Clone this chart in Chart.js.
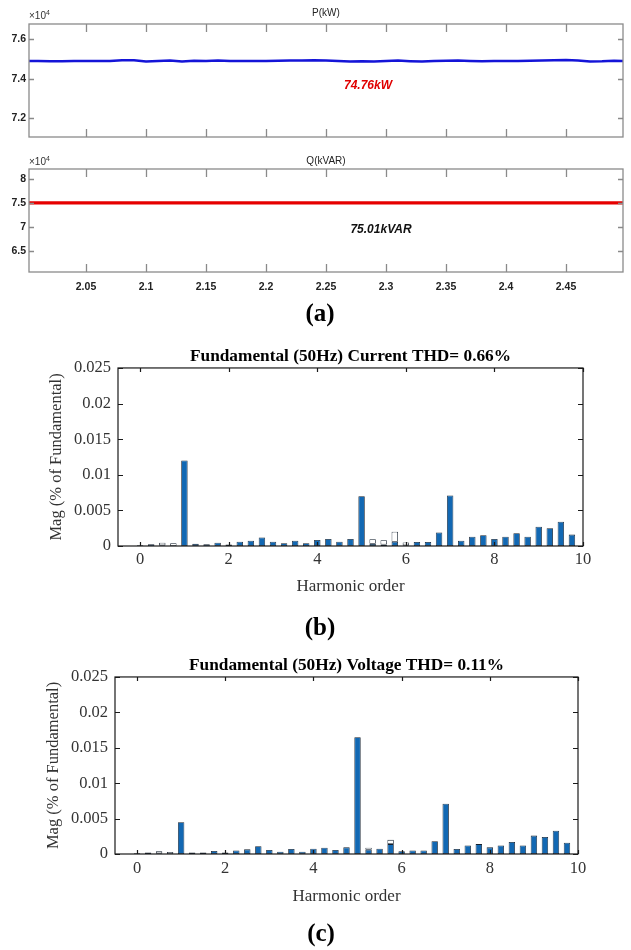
<!DOCTYPE html>
<html>
<head>
<meta charset="utf-8">
<script src="https://cdn.jsdelivr.net/npm/chart.js@4.4.1/dist/chart.umd.min.js"></script>
<style>
  body { margin: 0; background: #fff; }
  #page { position: relative; width: 631px; height: 950px; overflow: hidden; background: #fff; }
  #page canvas { position: absolute; left: 0; }
  .lbl { position: absolute; transform: translate(-50%, -50%); white-space: nowrap; }
  .narrow { font-family: "Liberation Sans Narrow", "Arial Narrow", "Liberation Sans", sans-serif; }
  .exp { position: absolute; font-size: 10px; color: #333; }
  .exp sup { font-size: 7px; }
  .panel { font-family: "Liberation Serif", "Times New Roman", serif; font-weight: bold; font-size: 25px; color: #000; }
</style>
</head>
<body>
<div id="page">
  <canvas id="pChart" width="631" height="150" style="top:0px"></canvas>
  <canvas id="qChart" width="631" height="150" style="top:150px"></canvas>
  <canvas id="iChart" width="631" height="270" style="top:330px"></canvas>
  <canvas id="vChart" width="631" height="270" style="top:640px"></canvas>

  <div class="lbl narrow" style="left:326px;top:12px;font-size:10px;color:#222">P(kW)</div>
  <div class="exp narrow" style="left:29px;top:9px">&times;10<sup>4</sup></div>
  <div class="lbl narrow" style="left:368px;top:85px;font-size:12px;color:#e00000;font-weight:bold;font-style:italic">74.76kW</div>

  <div class="lbl narrow" style="left:326px;top:160px;font-size:10px;color:#222">Q(kVAR)</div>
  <div class="exp narrow" style="left:29px;top:155px">&times;10<sup>4</sup></div>
  <div class="lbl narrow" style="left:381px;top:229px;font-size:12px;color:#111;font-weight:bold;font-style:italic">75.01kVAR</div>

  <div class="lbl panel" style="left:320px;top:313px">(a)</div>
  <div class="lbl panel" style="left:320px;top:627px">(b)</div>
  <div class="lbl panel" style="left:321px;top:933px">(c)</div>
</div>

<script>
// ---- data (a): active / reactive power vs time ----
const pTime = [2.00, 2.01, 2.02, 2.03, 2.04, 2.05, 2.06, 2.07, 2.08, 2.09,
               2.10, 2.11, 2.12, 2.13, 2.14, 2.15, 2.16, 2.17, 2.18, 2.19,
               2.20, 2.21, 2.22, 2.23, 2.24, 2.25, 2.26, 2.27, 2.28, 2.29,
               2.30, 2.31, 2.32, 2.33, 2.34, 2.35, 2.36, 2.37, 2.38, 2.39,
               2.40, 2.41, 2.42, 2.43, 2.44, 2.45, 2.46, 2.47, 2.48, 2.49, 2.50];
const pValue = [74900, 74895, 74890, 74890, 74895, 74895, 74900, 74900, 74940, 74935,
                74870, 74905, 74930, 74880, 74910, 74900, 74920, 74905, 74895, 74900,
                74905, 74910, 74920, 74930, 74935, 74925, 74900, 74870, 74890, 74875,
                74900, 74920, 74890, 74870, 74895, 74915, 74925, 74905, 74890, 74895,
                74900, 74895, 74910, 74925, 74940, 74955, 74930, 74880, 74885, 74910, 74905];
const qTime = [2.00, 2.10, 2.20, 2.30, 2.40, 2.50];
const qValue = [75010, 75010, 75010, 75010, 75010, 75010];

const timeTicks = [2.05, 2.1, 2.15, 2.2, 2.25, 2.3, 2.35, 2.4, 2.45];
const pTicks = [72000, 74000, 76000];
const qTicks = [65000, 70000, 75000, 80000];

// ---- data (b), (c): harmonic spectrum ----
const harmonicOrder = [0, 0.25, 0.5, 0.75, 1, 1.25, 1.5, 1.75, 2, 2.25,
                       2.5, 2.75, 3, 3.25, 3.5, 3.75, 4, 4.25, 4.5, 4.75,
                       5, 5.25, 5.5, 5.75, 6, 6.25, 6.5, 6.75, 7, 7.25,
                       7.5, 7.75, 8, 8.25, 8.5, 8.75, 9, 9.25, 9.5, 9.75];
// filled (blue) part of each bar
const currentFilled = [0.0001, 0.00024, 0.0001, 0, 0.012, 0.0003, 0.00024, 0.00047, 0.0002, 0.0006,
                       0.00075, 0.0012, 0.0006, 0.0004, 0.00075, 0.0004, 0.00085, 0.001, 0.0006, 0.001,
                       0.007, 0.0003, 0.0002, 0.0006, 0.0001, 0.00057, 0.00057, 0.0019, 0.0071, 0.00075,
                       0.0013, 0.0015, 0.001, 0.0013, 0.0018, 0.0013, 0.0027, 0.0025, 0.0034, 0.0016];
// open (white) part on top of the bar
const currentOpen = [0, 0, 0.00035, 0.0004, 0, 0, 0, 0, 0, 0,
                     0, 0, 0, 0, 0, 0, 0, 0, 0, 0,
                     0, 0.00065, 0.0006, 0.0014, 0.0004, 0, 0, 0, 0, 0,
                     0, 0, 0, 0, 0, 0, 0, 0, 0, 0];
const voltageFilled = [0.0001, 0.0002, 0.0001, 0, 0.0045, 0.0002, 0.0002, 0.00042, 0.0002, 0.0005,
                       0.00066, 0.0011, 0.00057, 0.00033, 0.0007, 0.00033, 0.00075, 0.0009, 0.00057, 0.00094,
                       0.0165, 0.0006, 0.00075, 0.0014, 0.0004, 0.0005, 0.0005, 0.0018, 0.0071, 0.0007,
                       0.0012, 0.0014, 0.00094, 0.0012, 0.0017, 0.0012, 0.0026, 0.0024, 0.0033, 0.0016];
const voltageOpen = [0, 0, 0.0003, 0.0003, 0, 0, 0, 0, 0, 0,
                     0, 0, 0, 0, 0, 0, 0, 0, 0, 0,
                     0, 0.0003, 0, 0.0006, 0, 0, 0, 0, 0, 0,
                     0, 0, 0, 0, 0, 0, 0, 0, 0, 0];
const harmonicTicks = [0, 2, 4, 6, 8, 10];
const magTicks = [0, 0.005, 0.01, 0.015, 0.02, 0.025];

// matlab style box with inward ticks on all four sides
const boxTicks = {
  id: 'boxTicks',
  afterDatasetsDraw(chart, args, opts) {
    const { ctx, chartArea: a, scales: { x, y } } = chart;
    ctx.save();
    ctx.strokeStyle = opts.color;
    ctx.lineWidth = opts.width;
    ctx.strokeRect(a.left, a.top, a.right - a.left, a.bottom - a.top);
    ctx.beginPath();
    x.ticks.forEach(t => {
      const px = Math.round(x.getPixelForValue(t.value)) + 0.5;
      ctx.moveTo(px, a.bottom); ctx.lineTo(px, a.bottom - opts.xLen);
      ctx.moveTo(px, a.top); ctx.lineTo(px, a.top + opts.xLen);
    });
    y.ticks.forEach(t => {
      const py = Math.round(y.getPixelForValue(t.value)) + 0.5;
      ctx.moveTo(a.left, py); ctx.lineTo(a.left + opts.yLen, py);
      ctx.moveTo(a.right, py); ctx.lineTo(a.right - opts.yLen, py);
    });
    ctx.stroke();
    ctx.restore();
  }
};

const narrow = '"Liberation Sans Narrow", "Arial Narrow", "Liberation Sans", sans-serif';
const serif = '"Liberation Serif", "Times New Roman", serif';

function powerChart(id, times, values, color, lineW, yMin, yMax, yTicks, fmt, opt) {
  return new Chart(document.getElementById(id), {
    type: 'line',
    data: {
      datasets: [{
        data: times.map((t, i) => ({ x: t, y: values[i] })),
        borderColor: color,
        borderWidth: lineW,
        pointRadius: 0,
        tension: 0,
        fill: false
      }]
    },
    plugins: [boxTicks],
    options: {
      responsive: false,
      animation: false,
      layout: { padding: opt.padding },
      plugins: {
        legend: { display: false },
        tooltip: { enabled: false },
        boxTicks: { color: '#8a8a8a', width: 1.3, xLen: 8, yLen: 5 }
      },
      scales: {
        x: {
          type: 'linear', min: 2.0025, max: 2.4975, offset: false,
          grid: { display: false, drawTicks: false },
          border: { display: false },
          afterBuildTicks: s => { s.ticks = timeTicks.map(v => ({ value: v })); },
          afterFit: s => { s.height = opt.xHeight; },
          ticks: {
            display: opt.showX, padding: 8.7, maxRotation: 0, autoSkip: false,
            color: '#222', font: { family: narrow, size: 10.5, weight: 'bold' },
            callback: v => String(v)
          }
        },
        y: {
          min: yMin, max: yMax,
          grid: { display: false, drawTicks: false },
          border: { display: false },
          afterBuildTicks: s => { s.ticks = yTicks.map(v => ({ value: v })); },
          afterFit: s => { s.width = 29; },
          ticks: {
            padding: 3, color: '#222',
            font: { family: narrow, size: 10.5, weight: 'bold' },
            callback: fmt
          }
        }
      }
    }
  });
}

powerChart('pChart', pTime, pValue, '#1414d8', 2.5, 71050, 76775, pTicks,
  v => (v / 1e4).toFixed(1),
  { padding: { top: 24, right: 8, bottom: 13, left: 0 }, xHeight: 0, showX: false });

powerChart('qChart', qTime, qValue, '#e60000', 3.2, 60625, 82080, qTicks,
  v => String(Number((v / 1e4).toFixed(2))),
  { padding: { top: 19, right: 8, bottom: 0, left: 0 }, xHeight: 28, showX: true });

function spectrumChart(id, filled, open, title, g) {
  const bar = { borderColor: '#15202e', borderWidth: 0.8, borderSkipped: false, categoryPercentage: 1, barPercentage: 0.58 };
  return new Chart(document.getElementById(id), {
    type: 'bar',
    data: {
      datasets: [
        Object.assign({ data: harmonicOrder.map((h, i) => ({ x: h, y: filled[i] })), backgroundColor: '#1268b3' }, bar),
        Object.assign({ data: harmonicOrder.map((h, i) => ({ x: h, y: open[i] })), backgroundColor: '#ffffff' }, bar)
      ]
    },
    plugins: [boxTicks],
    options: {
      responsive: false,
      animation: false,
      layout: { padding: { top: 0, right: g.right, bottom: 0, left: 0 } },
      plugins: {
        legend: { display: false },
        tooltip: { enabled: false },
        title: {
          display: true, text: title, fullSize: false, color: '#000',
          font: { family: serif, size: 17.3, weight: 'bold' },
          padding: { top: g.titleTop, bottom: 0.6 }
        },
        boxTicks: { color: '#1a1a1a', width: 1.2, xLen: 4, yLen: 5 }
      },
      scales: {
        x: {
          type: 'linear', min: -0.5, max: 10, offset: false, stacked: true,
          grid: { display: false, drawTicks: false, offset: false },
          border: { display: false },
          afterBuildTicks: s => { s.ticks = harmonicTicks.map(v => ({ value: v })); },
          afterFit: s => { s.height = g.xHeight; },
          ticks: {
            padding: g.xPad, maxRotation: 0, autoSkip: false, color: '#333',
            font: { family: serif, size: 16.5 },
            callback: v => String(v)
          },
          title: {
            display: true, text: 'Harmonic order', color: '#333',
            font: { family: serif, size: 17 },
            padding: { top: 0, bottom: 3 }
          }
        },
        y: {
          min: 0, max: 0.025, stacked: true,
          grid: { display: false, drawTicks: false },
          border: { display: false },
          afterBuildTicks: s => { s.ticks = magTicks.map(v => ({ value: v })); },
          afterFit: s => { s.width = g.left; },
          ticks: {
            padding: 7, color: '#333',
            font: { family: serif, size: 16.5 },
            callback: v => String(v)
          },
          title: {
            display: true, text: 'Mag (% of Fundamental)', color: '#333',
            font: { family: serif, size: 16.5 },
            padding: { top: g.yTitle, bottom: 0 }
          }
        }
      }
    }
  });
}

spectrumChart('iChart', currentFilled, currentOpen, 'Fundamental (50Hz) Current THD= 0.66%',
  { left: 118, right: 48, titleTop: 16.6, xHeight: 54, xPad: 4.2, yTitle: 47 });
spectrumChart('vChart', voltageFilled, voltageOpen, 'Fundamental (50Hz) Voltage THD= 0.11%',
  { left: 115, right: 53, titleTop: 15.6, xHeight: 56, xPad: 5.2, yTitle: 44 });
</script>
</body>
</html>
